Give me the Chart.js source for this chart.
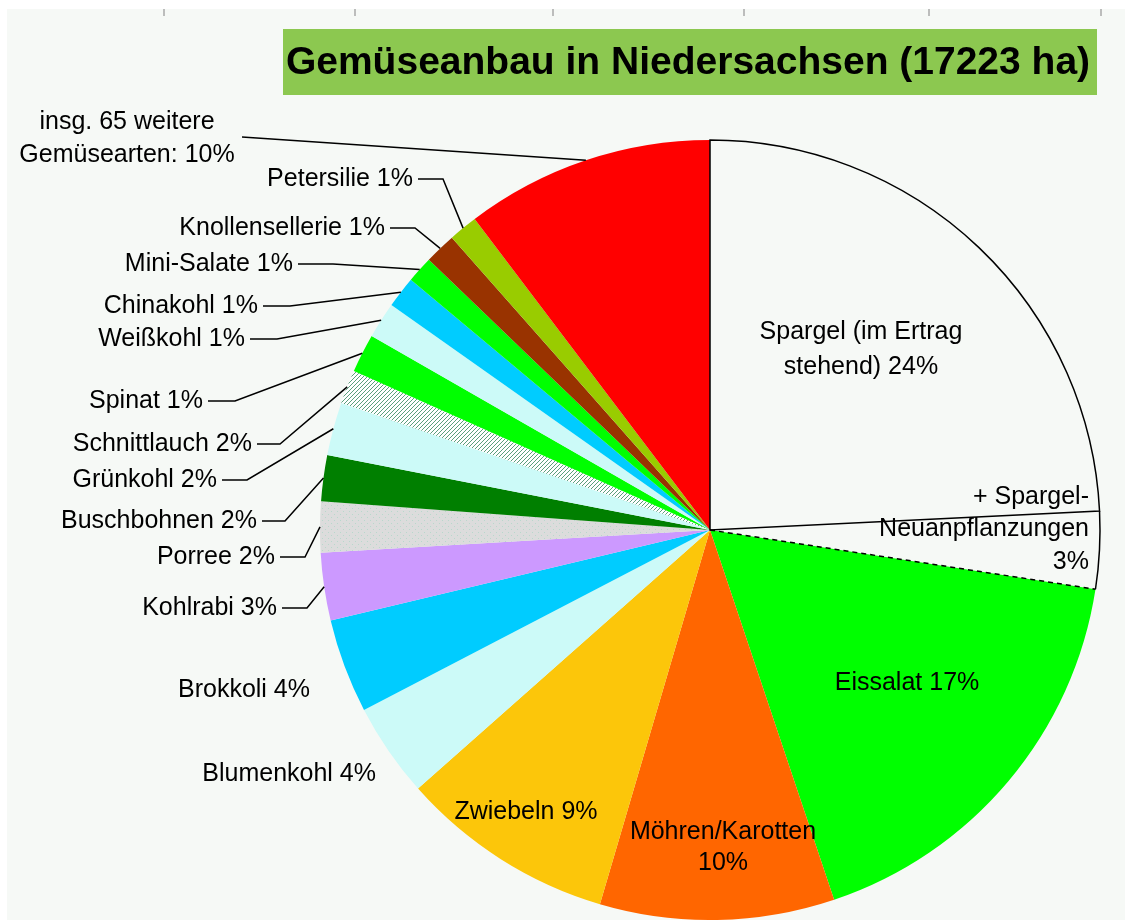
<!DOCTYPE html>
<html>
<head>
<meta charset="utf-8">
<script src="https://cdn.jsdelivr.net/npm/chart.js@4.4.0/dist/chart.umd.min.js"></script>
<style>
  html, body { margin: 0; padding: 0; background: #ffffff; overflow: hidden; }
  #wrap { width: 1125px; height: 920px; position: relative; }
</style>
</head>
<body>
<div id="wrap"><canvas id="chart-gemuese" width="1125" height="920"></canvas></div>
<script>
// Anteile der Anbauflächen (%), im Uhrzeigersinn ab 12 Uhr
const categories = [
    'Spargel (im Ertrag stehend)', 'Spargel-Neuanpflanzungen', 'Eissalat', 'Möhren/Karotten',
    'Zwiebeln', 'Blumenkohl', 'Brokkoli', 'Kohlrabi', 'Porree', 'Buschbohnen', 'Grünkohl',
    'Schnittlauch', 'Spinat', 'Weißkohl', 'Chinakohl', 'Mini-Salate', 'Knollensellerie',
    'Petersilie', 'insg. 65 weitere Gemüsearten'
];
const shares = [24.2, 3.2, 17.4, 9.7, 8.9, 3.9, 3.9, 2.8, 2.1, 1.9, 2.2, 1.4, 1.6, 1.5, 1.3, 1.1, 1.3, 1.2, 10.3];
const labelTexts = [
    'Spargel (im Ertrag\nstehend) 24%', '+ Spargel-\nNeuanpflanzungen\n3%', 'Eissalat 17%',
    'Möhren/Karotten\n10%', 'Zwiebeln 9%', 'Blumenkohl 4%', 'Brokkoli 4%', 'Kohlrabi 3%',
    'Porree 2%', 'Buschbohnen 2%', 'Grünkohl 2%', 'Schnittlauch 2%', 'Spinat 1%',
    'Weißkohl 1%', 'Chinakohl 1%', 'Mini-Salate 1%', 'Knollensellerie 1%', 'Petersilie 1%',
    'insg. 65 weitere\nGemüsearten: 10%'
];
const titleText = 'Gemüseanbau in Niedersachsen (17223 ha)';

// Label placement (layout only): x anchor, line centres, alignment, optional leader elbow / start
const labelLayout = [
    { x: 861, y: [332, 367], align: 'center' },
    { x: 1089, y: [497, 529, 562], align: 'right' },
    { x: 907, y: [683], align: 'center' },
    { x: 723, y: [832, 863], align: 'center' },
    { x: 526, y: [812], align: 'center' },
    { x: 376, y: [774], align: 'right' },
    { x: 310, y: [690], align: 'right' },
    { x: 277, y: [608], align: 'right', elbow: 307 },
    { x: 275, y: [557], align: 'right', elbow: 305 },
    { x: 257, y: [521], align: 'right', elbow: 285 },
    { x: 217, y: [480], align: 'right', elbow: 247 },
    { x: 252, y: [444], align: 'right', elbow: 280 },
    { x: 203, y: [401], align: 'right', elbow: 235 },
    { x: 245, y: [339], align: 'right', elbow: 277 },
    { x: 258, y: [306], align: 'right', elbow: 290 },
    { x: 293, y: [264], align: 'right', elbow: 333 },
    { x: 385, y: [228], align: 'right', elbow: 415 },
    { x: 413, y: [179], align: 'right', elbow: 443 },
    { x: 127, y: [122, 155], align: 'center', leadFrom: [242, 137] }
];

const BG = '#f6f9f6';

function makePattern(size, draw) {
    const c = document.createElement('canvas');
    c.width = size; c.height = size;
    const g = c.getContext('2d');
    draw(g);
    return g.createPattern(c, 'repeat');
}
// Schnittlauch: fine green diagonal hatching
const hatchGreen = makePattern(4, g => {
    g.fillStyle = '#ffffff'; g.fillRect(0, 0, 4, 4);
    g.fillStyle = '#5a9e7c';
    g.fillRect(3, 0, 1, 1); g.fillRect(2, 1, 1, 1); g.fillRect(1, 2, 1, 1); g.fillRect(0, 3, 1, 1);
});
// Porree: light grey with sparse dots
const dottedGray = makePattern(6, g => {
    g.fillStyle = '#dcdcdc'; g.fillRect(0, 0, 6, 6);
    g.fillStyle = '#b8d8cc'; g.fillRect(1, 1, 1, 1); g.fillRect(4, 4, 1, 1);
});

const sliceColors = [
    BG, BG, '#00ff00', '#ff6600', '#fcc60a', '#ccfaf8', '#00ccff', '#cc99ff', dottedGray,
    '#007f00', '#ccfaf8', hatchGreen, '#00ff00', '#ccfaf8', '#00ccff', '#00ff00', '#993300',
    '#99cc00', '#ff0000'
];

const decorPlugin = {
    id: 'decor',
    beforeDraw(chart) {
        const c = chart.ctx;
        c.save();
        c.fillStyle = '#ffffff';
        c.fillRect(0, 0, chart.width, chart.height);
        c.fillStyle = BG;
        c.fillRect(7, 9, chart.width - 7, chart.height - 9);
        // small tick marks along the top edge
        c.strokeStyle = '#a8a8a8';
        c.lineWidth = 1.5;
        [164, 355, 553, 744, 929, 1101].forEach(tx => {
            c.beginPath(); c.moveTo(tx, 9); c.lineTo(tx, 16); c.stroke();
        });
        c.restore();
    },
    afterDatasetsDraw(chart) {
        const c = chart.ctx;
        const arcs = chart.getDatasetMeta(0).data;
        const sp = arcs[0], neu = arcs[1];
        c.save();
        c.strokeStyle = '#000';
        c.lineWidth = 1.5;
        // outline Spargel
        c.beginPath();
        c.moveTo(sp.x, sp.y);
        c.arc(sp.x, sp.y, sp.outerRadius, sp.startAngle, sp.endAngle);
        c.closePath();
        c.stroke();
        // outline Neuanpflanzungen: solid arc, dashed lower edge
        c.beginPath();
        c.arc(neu.x, neu.y, neu.outerRadius, neu.startAngle, neu.endAngle);
        c.stroke();
        c.setLineDash([5, 4]);
        c.beginPath();
        c.moveTo(neu.x, neu.y);
        c.lineTo(neu.x + neu.outerRadius * Math.cos(neu.endAngle), neu.y + neu.outerRadius * Math.sin(neu.endAngle));
        c.stroke();
        c.setLineDash([]);

        // labels + leader lines
        c.font = '25px "Liberation Sans", Arial, sans-serif';
        c.textBaseline = 'middle';
        c.fillStyle = '#000';
        labelTexts.forEach((txt, i) => {
            const L = labelLayout[i];
            const lines = txt.split('\n');
            c.textAlign = L.align;
            lines.forEach((ln, k) => c.fillText(ln, L.x, L.y[k]));
            const a = arcs[i];
            const mid = (a.startAngle + a.endAngle) / 2;
            const px = a.x + a.outerRadius * Math.cos(mid);
            const py = a.y + a.outerRadius * Math.sin(mid);
            if (L.elbow) {
                c.beginPath();
                c.moveTo(L.x + 5, L.y[0]);
                c.lineTo(L.elbow, L.y[0]);
                c.lineTo(px, py);
                c.stroke();
            } else if (L.leadFrom) {
                c.beginPath();
                c.moveTo(L.leadFrom[0], L.leadFrom[1]);
                c.lineTo(px, py);
                c.stroke();
            }
        });

        // title box
        c.fillStyle = '#8cc850';
        c.fillRect(283, 29, 814, 66);
        c.fillStyle = '#000';
        c.font = 'bold 39px "Liberation Sans", Arial, sans-serif';
        c.textAlign = 'center';
        c.textBaseline = 'alphabetic';
        c.fillText(titleText, 688, 74);
        c.restore();
    }
};

new Chart(document.getElementById('chart-gemuese'), {
    type: 'pie',
    data: {
        labels: categories,
        datasets: [{
            data: shares,
            backgroundColor: sliceColors,
            borderWidth: 0,
            radius: 390
        }]
    },
    options: {
        responsive: false,
        animation: false,
        events: [],
        layout: { padding: { left: 320, right: 25, top: 140, bottom: 0 } },
        plugins: {
            legend: { display: false },
            tooltip: { enabled: false },
            title: { display: false }
        }
    },
    plugins: [decorPlugin]
});
</script>
</body>
</html>
